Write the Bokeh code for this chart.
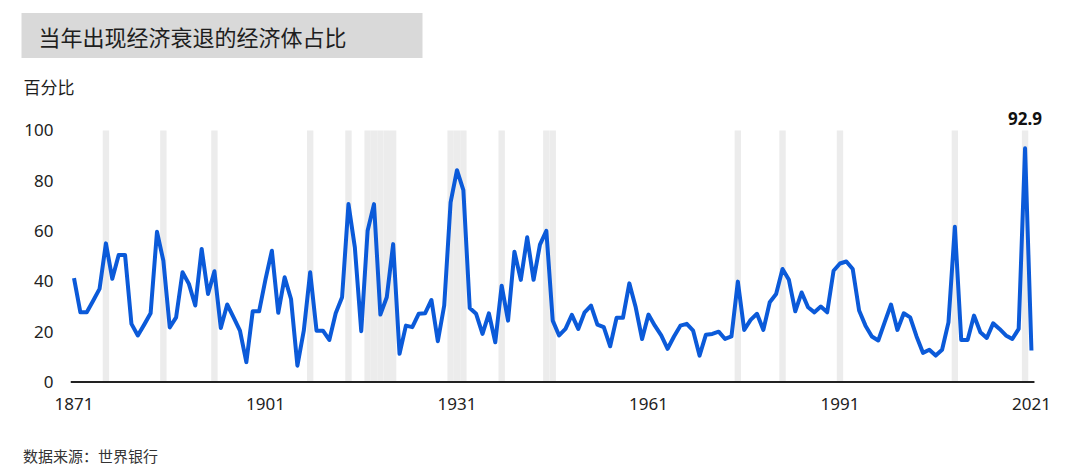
from bokeh.plotting import figure
from bokeh.models import Label, FixedTicker, Range1d, Title, Div
from bokeh.layouts import column
from bokeh.embed import file_html
from bokeh.resources import INLINE

years = list(range(1871, 2022))
share = [
    41.3, 27.7, 27.7, 32.3, 37.0, 55.1, 41.0, 50.5, 50.5, 23.1,
    18.5, 22.8, 27.3, 59.7, 48.2, 21.7, 25.7, 43.6, 39.0, 30.4,
    52.9, 35.0, 44.0, 21.5, 30.8, 25.7, 20.4, 7.9, 28.1, 28.1,
    40.8, 52.2, 27.5, 41.6, 33.0, 6.5, 20.4, 43.6, 20.4, 20.4,
    16.7, 27.3, 33.7, 70.7, 53.5, 20.2, 60.1, 70.7, 26.8, 33.7,
    54.8, 11.2, 22.4, 21.8, 27.1, 27.3, 32.6, 16.2, 30.4, 71.4,
    84.2, 76.3, 29.4, 27.1, 19.1, 27.3, 15.8, 38.3, 24.4, 51.8,
    40.6, 57.5, 40.6, 54.6, 60.1, 24.4, 18.5, 21.1, 26.7, 21.1,
    27.7, 30.4, 22.8, 21.8, 14.2, 25.5, 25.5, 39.2, 29.7, 17.1,
    26.8, 22.4, 18.5, 13.2, 18.1, 22.4, 23.1, 20.4, 10.5, 18.8,
    19.1, 20.0, 17.1, 18.1, 39.9, 20.7, 24.7, 27.1, 20.7, 31.7,
    35.0, 44.9, 40.6, 28.1, 35.6, 29.7, 27.7, 30.0, 27.7, 44.2,
    47.1, 47.9, 44.9, 28.4, 22.4, 18.1, 16.5, 23.7, 30.8, 20.7,
    27.3, 25.7, 18.1, 11.6, 12.8, 10.5, 12.8, 23.7, 61.7, 16.7,
    16.7, 26.4, 19.8, 17.5, 23.3, 21.1, 18.5, 17.1, 21.1, 92.9,
    12.5,
]
recession_years = [1876, 1885, 1893, 1908, 1914, 1917, 1918, 1919, 1920, 1921,
                   1930, 1931, 1932, 1938, 1945, 1946, 1975, 1982, 1991, 2009, 2020]
band_top = 100
x_ticks = [1871, 1901, 1931, 1961, 1991, 2021]
y_ticks = [0, 20, 40, 60, 80, 100]

title_text = "当年出现经济衰退的经济体占比"
unit_text = "百分比"
source_text = "数据来源：世界银行"
CJK = "Noto Sans CJK SC"
NUM = "Noto Sans"

W, H = 1064, 445
SRC_H = 31
FL, FR, FT, FB = 70, 1048, 100, 383
PX_PER_YEAR = 6.383
PX_PER_UNIT = 2.525
Y_ZERO_PX = 381.5
X_FIRST_PX = 73.5
X0 = years[0] - (X_FIRST_PX - FL) / PX_PER_YEAR
X1 = years[0] + (FR - X_FIRST_PX) / PX_PER_YEAR
Y0 = -(FB - Y_ZERO_PX) / PX_PER_UNIT
Y1 = (Y_ZERO_PX - FT) / PX_PER_UNIT
X_AXIS_END = years[-1] + 3 / PX_PER_YEAR

p = figure(width=W, height=H, output_backend="svg", toolbar_location=None,
           x_range=Range1d(X0, X1), y_range=Range1d(Y0, Y1),
           min_border_left=FL, min_border_right=W - FR,
           min_border_top=FT, min_border_bottom=H - FB)
p.outline_line_color = None
p.xgrid.visible = False
p.ygrid.visible = False
p.background_fill_color = "white"
p.border_fill_color = "white"

p.vbar(x=recession_years, width=1, top=band_top, bottom=0,
       fill_color="#ececec", line_color=None)
p.segment(x0=[X0], y0=[0], x1=[X_AXIS_END], y1=[0], line_color="#222222", line_width=2)
p.line(years, share, line_color="#0b5ad9", line_width=4, line_join="round")

xa = p.xaxis[0]
xa.ticker = FixedTicker(ticks=x_ticks)
xa.axis_line_color = None
xa.major_tick_line_color = None
xa.minor_tick_line_color = None
xa.major_tick_out = 0
xa.major_label_standoff = 14
xa.major_label_text_font = NUM
xa.major_label_text_font_size = "17px"
xa.major_label_text_color = "#222222"

ya = p.yaxis[0]
ya.ticker = FixedTicker(ticks=y_ticks)
ya.axis_line_color = None
ya.major_tick_line_color = None
ya.minor_tick_line_color = None
ya.major_tick_out = 0
ya.major_label_standoff = 17
ya.major_label_text_font = NUM
ya.major_label_text_font_size = "17px"
ya.major_label_text_color = "#222222"

t_unit = Title(text=unit_text, align="left", offset=23 - FL, text_font=CJK,
               text_font_size="17px", text_font_style="normal",
               text_color="#1e1e1e", standoff=6)
t_main = Title(text=title_text, align="left", offset=21 - FL, text_font=CJK,
               text_font_size="22px", text_font_style="normal",
               text_color="#1e1e1e", background_fill_color="#d9d9d9",
               padding=dict(left=17, right=76, top=7, bottom=6), standoff=21)
p.add_layout(t_unit, "above")
p.add_layout(t_main, "above")

peak_i = share.index(max(share))
p.add_layout(Label(x=years[peak_i], y=share[peak_i], y_offset=23,
                   text=f"{share[peak_i]:.1f}", text_font=NUM,
                   text_font_size="17px", text_font_style="bold",
                   text_color="#111111", text_align="center",
                   text_baseline="bottom"))

src = Div(text=source_text, width=W, height=SRC_H, margin=0,
          styles={"font-family": CJK, "font-size": "15px", "color": "#333333",
                  "line-height": "22px", "padding-left": "23px",
                  "box-sizing": "border-box"})

layout = column(p, src, spacing=0)
open("out.html", "w").write(file_html(layout, INLINE))
